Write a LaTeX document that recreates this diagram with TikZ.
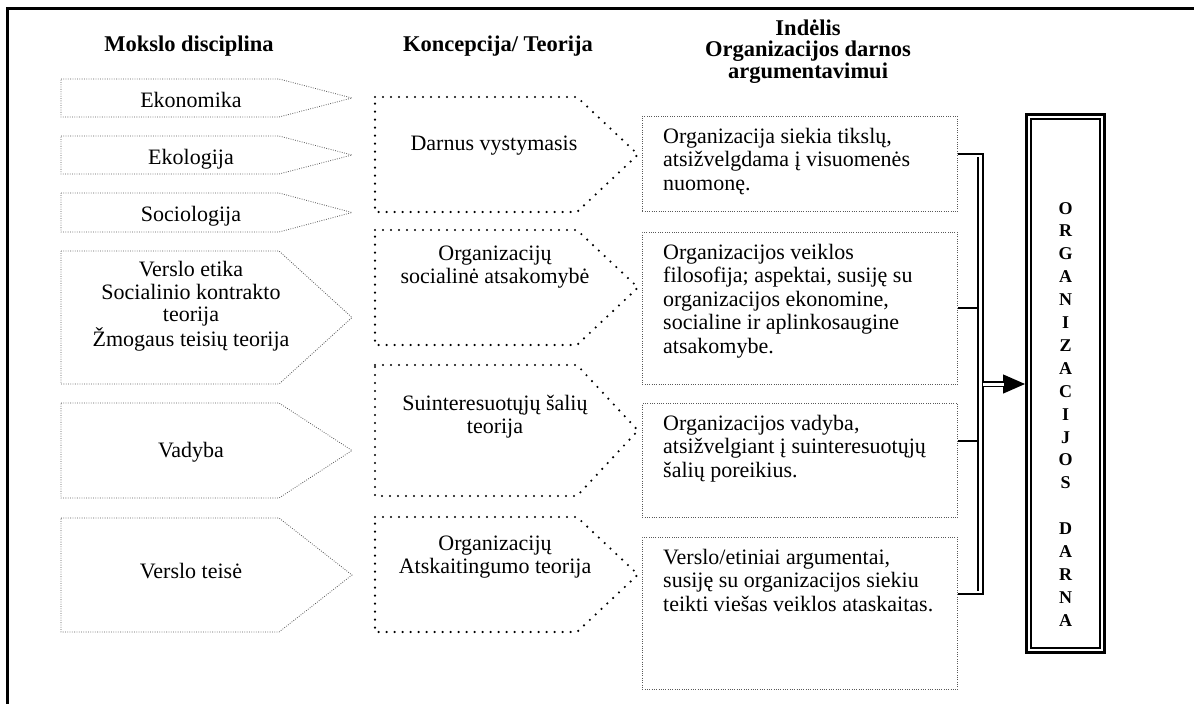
\documentclass[tikz,border=0pt]{standalone}
\usepackage{fontspec}
\setmainfont{Liberation Serif}
\usetikzlibrary{arrows.meta}
\begin{document}
\begin{tikzpicture}[x=1pt,y=-1pt,
  bodytxt/.style={font=\fontsize{22}{23.5}\selectfont, inner sep=0pt, align=center},
  lefttxt/.style={font=\fontsize{22}{23.5}\selectfont, inner sep=0pt, align=left, anchor=base west},
  hdr/.style={font=\fontsize{22.5}{21.5}\selectfont\bfseries, inner sep=0pt, align=center, anchor=base},
  finedot/.style={draw=black!65, line width=0.8pt, dash pattern=on 0.8pt off 1.5pt},
  bigdot/.style={draw=black, line width=2.4pt, line cap=round, dash pattern=on 0pt off 8pt},
  bracket/.style={draw=black, line width=1.6pt},
  rbox/.style={finedot, inner sep=0pt, minimum width=315pt, anchor=north west}]
\useasboundingbox (0,0) rectangle (1194,704);
\fill[white] (0,0) rectangle (1194,704);

% page frame (top and left rule)
\draw[line width=3pt] (7.5,704) -- (7.5,8) -- (1194,8);

% column headings (multi-line nodes sit on the baseline of their last line)
\node[hdr] (h1) at (189,51) {Mokslo disciplina};
\node[hdr] (h2) at (498,51) {Koncepcija/ Teorija};
\node[hdr] (h3) at (808,78) {Indėlis\\Organizacijos darnos\\argumentavimui};

% scientific disciplines: pentagon arrows
\foreach \t/\b in {79/117,136/174,193/232,251/384,403/498,518/632}
  \draw[finedot] (61,\t) -- (279,\t) -- (352,{(\t+\b)/2}) -- (279,\b) -- (61,\b) -- cycle;
\node[bodytxt, anchor=base] (eko) at (191,107) {Ekonomika};
\node[bodytxt, anchor=base] (ekl) at (191,164) {Ekologija};
\node[bodytxt, anchor=base] (soc) at (191,221) {Sociologija};
\node[bodytxt, anchor=base, font=\fontsize{22}{22.5}\selectfont] (ve) at (191,346.5)
  {Verslo etika\\Socialinio kontrakto\\teorija\\Žmogaus teisių teorija};
\node[bodytxt, anchor=base] (vad) at (191,457) {Vadyba};
\node[bodytxt, anchor=base] (vt) at (191,578) {Verslo teisė};

% concepts and theories: dotted arrow shapes
\foreach \t/\b in {97/212,230/345,365/496,517/632}
  \draw[bigdot] (375,\t) -- (577,\t) -- (638,{(\t+\b)/2}) -- (577,\b) -- (375,\b) -- cycle;
\node[bodytxt, anchor=base] (dv) at (494,150) {Darnus vystymasis};
\node[bodytxt, anchor=base] (osa) at (495,283.5) {Organizacijų\\socialinė atsakomybė};
\node[bodytxt, anchor=base] (sst) at (495,433.5) {Suinteresuotųjų šalių\\teorija};
\node[bodytxt, anchor=base] (oat) at (495,573.5) {Organizacijų\\Atskaitingumo teorija};

% contribution boxes
\node[rbox, minimum height=95pt] (r1) at (642,116) {};
\node[rbox, minimum height=152pt] (r2) at (642,232) {};
\node[rbox, minimum height=114pt] (r3) at (642,403) {};
\node[rbox, minimum height=152pt] (r4) at (642,537) {};
\node[lefttxt] (t1) at (663,190)
  {Organizacija siekia tikslų,\\atsižvelgdama į visuomenės\\nuomonę.};
\node[lefttxt] (t2) at (663,353)
  {Organizacijos veiklos\\filosofija; aspektai, susiję su\\organizacijos ekonomine,\\socialine ir aplinkosaugine\\atsakomybe.};
\node[lefttxt] (t3) at (663,477)
  {Organizacijos vadyba,\\atsižvelgiant į suinteresuotųjų\\šalių poreikius.};
\node[lefttxt] (t4) at (663,611)
  {Verslo/etiniai argumentai,\\susiję su organizacijos siekiu\\teikti viešas veiklos ataskaitas.};

% result box
\node[draw, line width=3pt, minimum width=78pt, minimum height=538pt, inner sep=0pt] (orgbox) at (1065.5,383.5) {};
\draw[line width=1.3pt] ([xshift=6pt,yshift=-6pt]orgbox.north west) rectangle ([xshift=-6pt,yshift=6pt]orgbox.south east);
\node[font=\fontsize{18}{22.9}\selectfont\bfseries, inner sep=0pt, align=center, anchor=base] (orgtxt) at (1065.5,626.2)
  {O\\R\\G\\A\\N\\I\\Z\\A\\C\\I\\J\\O\\S\\[22.9pt]D\\A\\R\\N\\A};

% bracket collecting the contributions
\coordinate (bt) at (983,154);
\coordinate (bb) at (983,594);
\coordinate (it) at (978,157);
\coordinate (ib) at (978,591);
\coordinate (s2) at (978,308);
\coordinate (s3) at (978,441);
\coordinate (ar) at (983,384);
\draw[bracket] (r1.east |- bt) -- (bt) -- (bb) -- (r4.east |- bb);
\draw[bracket] (it) -- (ib);
\draw[bracket] (r2.east |- s2) -- (s2);
\draw[bracket] (r3.east |- s3) -- (s3);

% arrow into the result box
\draw[line width=1.2pt, -{Triangle[length=22pt,width=19pt]}] (ar) -- (orgbox.west |- ar);
\draw[line width=1.3pt, double, double distance=3pt] (ar) -- ++(21,0);
\end{tikzpicture}
\end{document}
